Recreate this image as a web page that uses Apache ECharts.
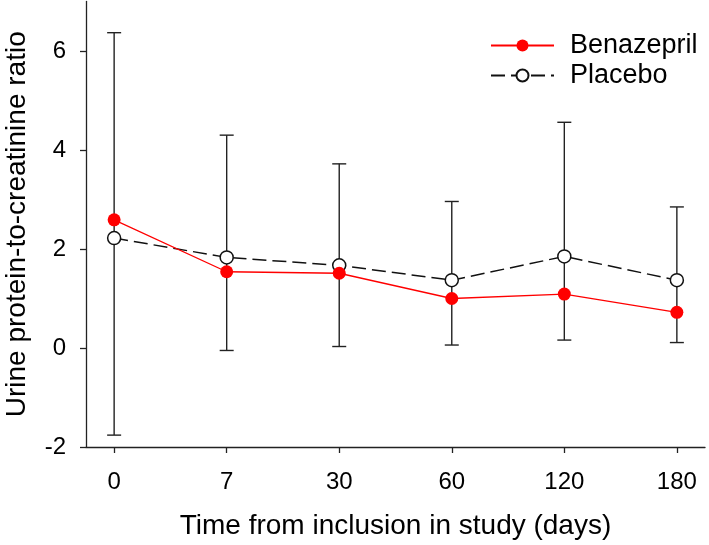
<!DOCTYPE html>
<html>
<head>
<meta charset="utf-8">
<script src="https://cdn.jsdelivr.net/npm/echarts@6/dist/echarts.min.js"></script>
<style>
html,body{margin:0;padding:0;background:#fff;}
#chart{width:709px;height:545px;}
</style>
</head>
<body>
<div id="chart"></div>
<script>
var categories = ['0', '7', '30', '60', '120', '180'];
var benazepril = [2.59, 1.54, 1.51, 1.00, 1.09, 0.72];
var placebo = [2.22, 1.83, 1.67, 1.37, 1.85, 1.37];
var placeboUpper = [6.37, 4.30, 3.72, 2.96, 4.56, 2.85];
var benazeprilLower = [-1.76, -0.05, 0.03, 0.06, 0.16, 0.11];
var yTicks = [-2, 0, 2, 4, 6];

var FONT = '"Liberation Sans", Arial, sans-serif';
var idx = categories.map(function (c, i) { return i; });

var chart = echarts.init(document.getElementById('chart'));
chart.setOption({
  animation: false,
  backgroundColor: '#fff',
  grid: { left: 86, right: 4, top: 1.5, bottom: 98, containLabel: false, outerBoundsMode: 'none' },
  legend: {
    orient: 'vertical',
    left: 485,
    top: 27,
    itemWidth: 63,
    itemHeight: 15,
    itemGap: 3,
    textStyle: { fontFamily: FONT, fontSize: 27, color: '#000', lineHeight: 27, padding: [0, 0, 0, 11] },
    data: ['Benazepril', 'Placebo']
  },
  xAxis: {
    type: 'value',
    min: -0.25,
    max: 5.25,
    name: 'Time from inclusion in study (days)',
    nameLocation: 'middle',
    nameGap: 65,
    nameTextStyle: { fontFamily: FONT, fontSize: 28, color: '#000' },
    axisLine: { show: true, onZero: false, lineStyle: { color: '#222', width: 1.3 } },
    axisTick: { show: true, length: 6, inside: false, customValues: idx, lineStyle: { color: '#222', width: 1.3 } },
    axisLabel: {
      customValues: idx,
      margin: 23,
      fontFamily: FONT, fontSize: 24, color: '#000',
      formatter: function (v) { return categories[Math.round(v)]; }
    },
    splitLine: { show: false }
  },
  yAxis: {
    type: 'value',
    min: -2,
    max: 7,
    name: 'Urine protein-to-creatinine ratio',
    nameLocation: 'middle',
    nameGap: 55,
    nameRotate: 90,
    nameTextStyle: { fontFamily: FONT, fontSize: 28, color: '#000' },
    axisLine: { show: true, onZero: false, lineStyle: { color: '#222', width: 1.3 } },
    axisTick: { show: true, length: 6, inside: false, customValues: yTicks, lineStyle: { color: '#222', width: 1.3 } },
    axisLabel: { customValues: yTicks, margin: 20, fontFamily: FONT, fontSize: 24, color: '#000' },
    splitLine: { show: false }
  },
  series: [
    {
      name: 'errorbars',
      type: 'custom',
      z: 1,
      silent: true,
      data: idx.map(function (i) { return [i, benazeprilLower[i], placeboUpper[i]]; }),
      renderItem: function (params, api) {
        var x = api.value(0);
        var lo = api.coord([x, api.value(1)]);
        var hi = api.coord([x, api.value(2)]);
        var hw = 7;
        var st = { stroke: '#222', lineWidth: 1.4 };
        return {
          type: 'group',
          children: [
            { type: 'line', shape: { x1: lo[0], y1: lo[1], x2: hi[0], y2: hi[1] }, style: st },
            { type: 'line', shape: { x1: hi[0] - hw, y1: hi[1], x2: hi[0] + hw, y2: hi[1] }, style: st },
            { type: 'line', shape: { x1: lo[0] - hw, y1: lo[1], x2: lo[0] + hw, y2: lo[1] }, style: st }
          ]
        };
      }
    },
    {
      name: 'Placebo',
      type: 'line',
      z: 3,
      data: idx.map(function (i) { return [i, placebo[i]]; }),
      symbol: 'circle',
      symbolSize: 13,
      lineStyle: { color: '#111', width: 1.5, type: [14, 6] },
      itemStyle: { color: '#fff', borderColor: '#111', borderWidth: 1.5 }
    },
    {
      name: 'Benazepril',
      type: 'line',
      z: 4,
      data: idx.map(function (i) { return [i, benazepril[i]]; }),
      symbol: 'circle',
      symbolSize: 13,
      lineStyle: { color: '#ff0000', width: 1.3 },
      itemStyle: { color: '#ff0000', borderColor: '#ff0000', borderWidth: 0 }
    }
  ]
});
</script>
</body>
</html>
